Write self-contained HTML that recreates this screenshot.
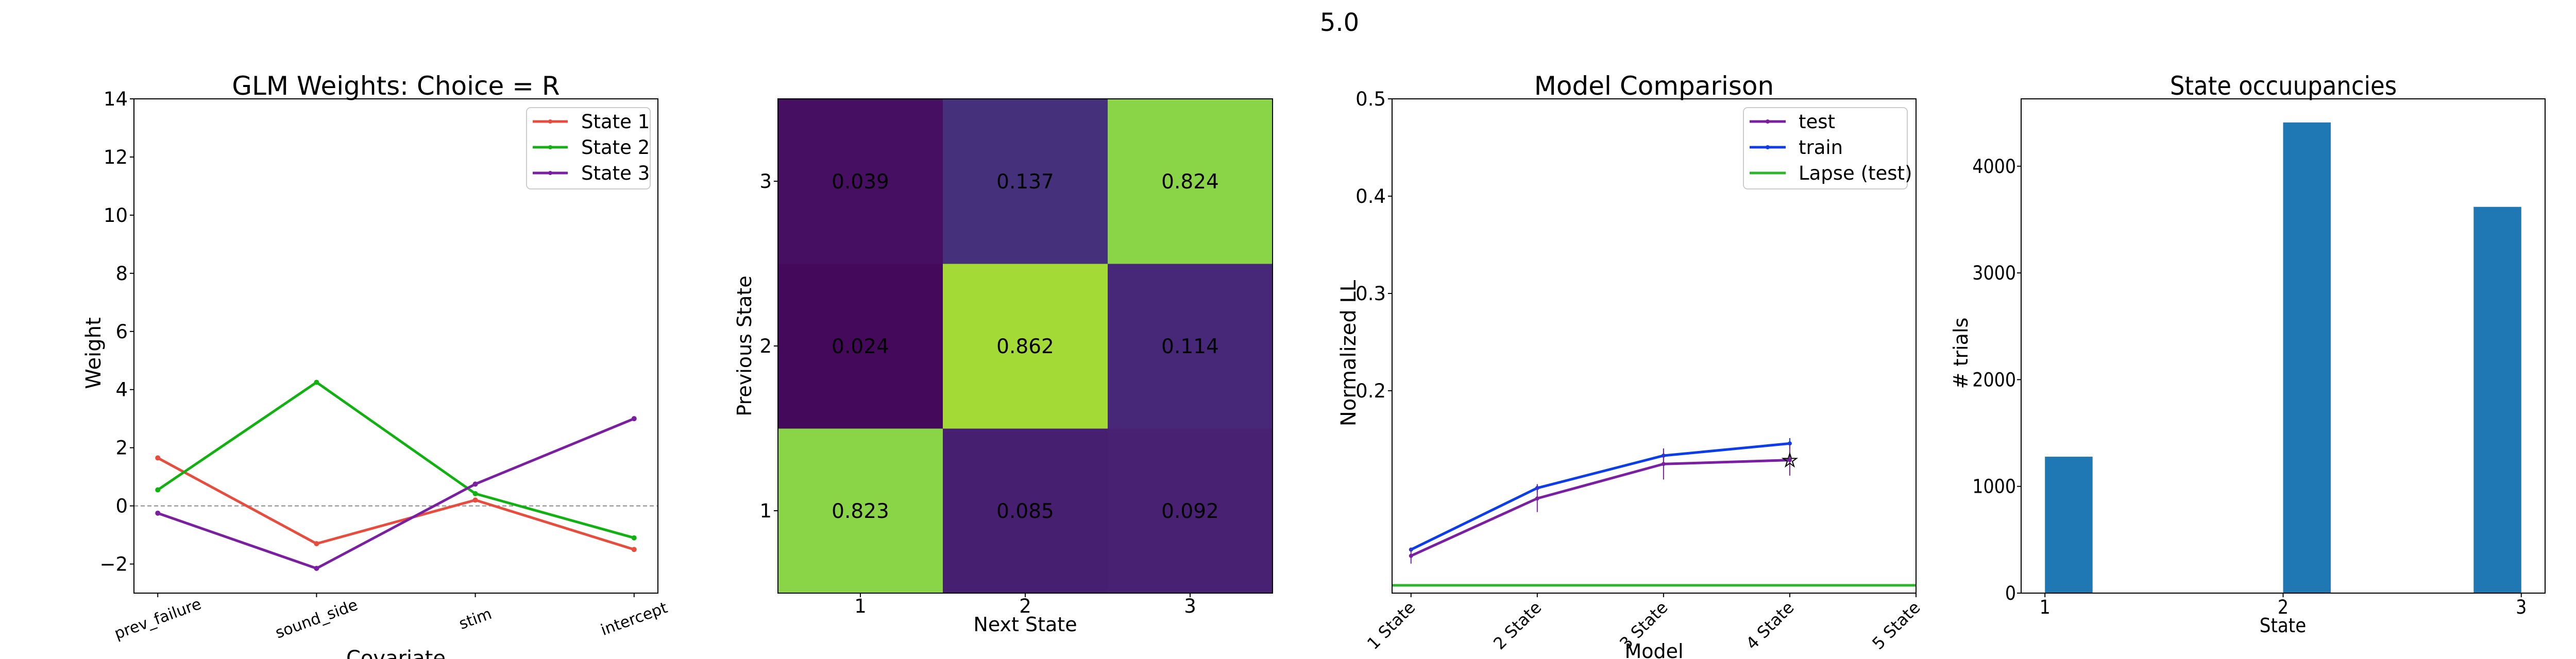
<!DOCTYPE html>
<html><head><meta charset="utf-8"><style>
html,body{margin:0;padding:0;background:#fff;width:5200px;height:1280px;overflow:hidden;}
svg{display:block;font-family:"DejaVu Sans","Liberation Sans",sans-serif;position:absolute;left:0;top:0;}
</style></head><body>
<svg id="fig" xmlns="http://www.w3.org/2000/svg" width="5200" height="1280" viewBox="0 0 5200 1280" overflow="hidden">
<rect width="5200" height="1280" fill="#fff"/>
<text x="2600" y="60" font-size="48" text-anchor="middle">5.0</text>
</svg>
<script>
// ---- data ----
const glmCovariates = ["prev_failure","sound_side","stim","intercept"];
const glmState1 = [1.65,-1.3,0.2,-1.5];
const glmState2 = [0.55,4.25,0.42,-1.1];
const glmState3 = [-0.25,-2.15,0.75,3.0];
const glmYTicks = [-2,0,2,4,6,8,10,12,14];
const transLabels = ["1","2","3"];
const transMatrix = [[0.823,0.085,0.092],[0.024,0.862,0.114],[0.039,0.137,0.824]];
const modelLabels = ["1 State","2 State","3 State","4 State","5 State"];
const modelTest = [0.0303,0.0893,0.1247,0.1287];
const modelTestErr = [0.008,0.014,0.016,0.016];
const modelTrain = [0.0367,0.1,0.1333,0.1458];
const modelTrainErr = [0.002,0.004,0.007,0.0055];
const lapseTest = [0.0];
const modelYTicks = [0.2,0.3,0.4,0.5];
const occStates = [1,2,3];
const occCounts = [1278,4410,3619];
const occYTicks = [0,1000,2000,3000,4000];

const NS="http://www.w3.org/2000/svg";
const svg=document.getElementById('fig');
function mk(tag,attrs,parent,txt){const e=document.createElementNS(NS,tag);for(const k in attrs)e.setAttribute(k,attrs[k]);if(txt!==undefined)e.textContent=txt;(parent||svg).appendChild(e);return e;}
function lin(d0,d1,r0,r1){return v=>r0+(v-d0)/(d1-d0)*(r1-r0);}
function frame(x0,y0,x1,y1,name){const r=mk('rect',{x:x0,y:y0,width:x1-x0,height:y1-y0,fill:'none',stroke:'#000','stroke-width':2});}
function txt(x,y,s,size,anchor,name,extra){const t=mk('text',Object.assign({x:x,y:y,'font-size':size,'text-anchor':anchor||'middle'},extra||{}),svg,s);return t;}
function poly(pts,color,w,name){const p=mk('polyline',{points:pts.map(p=>p.join(',')).join(' '),fill:'none',stroke:color,'stroke-width':w,'stroke-linejoin':'round'});return p;}
function line(x1,y1,x2,y2,color,w,name,extra){const l=mk('line',Object.assign({x1:x1,y1:y1,x2:x2,y2:y2,stroke:color,'stroke-width':w},extra||{}));return l;}
function dot(x,y,r,color,name){const c=mk('circle',{cx:x,cy:y,r:r,fill:color});}
function legendBox(x,y,w,h,name){const r=mk('rect',{x:x,y:y,width:w,height:h,rx:8,fill:'#fff','fill-opacity':0.8,stroke:'#ccc','stroke-width':2});}

// ---- Panel 1: GLM weights ----
(function(){
const L=260,R=1277,T=192,B=1152;
const X=lin(-0.15,3.15,L,R), Y=lin(-3,14,B,T);
line(L,Y(0),R,Y(0),'#888',2,'zero-line',{'stroke-dasharray':'8,5'});
const cols=['#e84c3d','#11b111','#7b1fa2'];
[glmState1,glmState2,glmState3].forEach((s,i)=>{
  poly(s.map((v,j)=>[X(j),Y(v)]),cols[i],5,'glm-line-state-'+(i+1));
  s.forEach((v,j)=>dot(X(j),Y(v),5,cols[i],'glm-point-state-'+(i+1)));
});
frame(L,T,R,B,'glm-axes');
glmYTicks.forEach(v=>{line(L-8,Y(v),L,Y(v),'#000',2,'glm-y-tick');txt(L-12,Y(v)+13,v<0?'\u2212'+Math.abs(v):String(v),37,'end','glm-y-tick-label');});
glmCovariates.forEach((c,j)=>{line(X(j),B,X(j),B+8,'#000',2,'glm-x-tick');
  txt(X(j),B+60,c,30,'middle','glm-x-tick-label',{transform:`rotate(-20 ${X(j)} ${B+50})`});});
txt((L+R)/2,184,'GLM Weights: Choice = R',50,'middle','glm-title');
txt(181,672,'Weight',40,'middle','glm-y-axis-title',{transform:'rotate(-90 195 672)'});
txt((L+R)/2,1292,'Covariate',40,'middle','glm-x-axis-title');
legendBox(1022,209,240,158,'glm-legend');
['State 1','State 2','State 3'].forEach((s,i)=>{const y=236+i*50;
  line(1034,y,1102,y,cols[i],5,'legend-line-state-'+(i+1));dot(1068,y,4,cols[i],'legend-marker-state-'+(i+1));
  txt(1128,y+13,s,37,'start','legend-entry-state-'+(i+1));});
})();

// ---- Panel 2: transition matrix ----
(function(){
const L=1510,R=2470,T=192,B=1152;
const X=lin(-0.5,2.5,L,R), Y=lin(-0.5,2.5,B,T);
const vir=[[0,68,1,84],[0.1,72,36,117],[0.2,65,68,135],[0.3,53,95,141],[0.4,42,120,142],[0.5,33,145,140],[0.6,34,168,132],[0.7,68,191,112],[0.8,122,209,81],[0.9,189,223,38],[1,253,231,37]];
function viridis(t){t=Math.max(0,Math.min(1,t));for(let i=0;i<vir.length-1;i++){const a=vir[i],b=vir[i+1];if(t<=b[0]){const f=(t-a[0])/(b[0]-a[0]);return `rgb(${[1,2,3].map(k=>Math.round(a[k]+f*(b[k]-a[k]))).join(',')})`;}}return 'rgb(253,231,37)';}
transMatrix.forEach((row,i)=>row.forEach((v,j)=>{
  const x0=X(j-0.5),x1=X(j+0.5),y0=Y(i+0.5),y1=Y(i-0.5);
  const r=mk('rect',{x:x0,y:y0,width:x1-x0+0.5,height:y1-y0+0.5,fill:viridis(v)});
  
  
  txt(X(j),Y(i)+14,v.toFixed(3),39,'middle','heatmap-value-'+(i+1)+'-'+(j+1));
}));
frame(L,T,R,B,'heatmap-axes');
transLabels.forEach((s,k)=>{line(L-8,Y(k),L,Y(k),'#000',2,'heatmap-y-tick');txt(L-12,Y(k)+13,s,37,'end','heatmap-y-tick-label');
  line(X(k),B,X(k),B+8,'#000',2,'heatmap-x-tick');txt(X(k),B+38,s,37,'middle','heatmap-x-tick-label');});
txt((L+R)/2,1226,'Next State',38,'middle','heatmap-x-axis-title');
txt(1458,672,'Previous State',38,'middle','heatmap-y-axis-title',{transform:'rotate(-90 1458 672)'});
})();

// ---- Panel 3: model comparison ----
(function(){
const L=2702,R=3719,T=192,B=1152;
const X=lin(0.85,5,L,R), Y=lin(-0.008,0.5,B,T);
line(L,Y(lapseTest[0]),R,Y(lapseTest[0]),'#2db52d',5,'lapse-test-line');
poly(modelTrain.map((v,i)=>[X(i+1),Y(v)]),'#0b3de8',5,'train-line');
modelTrain.forEach((v,i)=>{line(X(i+1),Y(v-modelTrainErr[i]),X(i+1),Y(v+modelTrainErr[i]),'#0b3de8',2,'train-error-bar');dot(X(i+1),Y(v),4,'#0b3de8','train-point');});
poly(modelTest.map((v,i)=>[X(i+1),Y(v)]),'#7b1fa2',5,'test-line');
modelTest.forEach((v,i)=>{line(X(i+1),Y(v-modelTestErr[i]),X(i+1),Y(v+modelTestErr[i]),'#7b1fa2',2,'test-error-bar');dot(X(i+1),Y(v),4,'#7b1fa2','test-point');});
const bi=modelTest.length-1;
txt(X(bi+1),Y(modelTest[bi])+12,'\u2605',34,'middle','best-model-star',{fill:'none',stroke:'#000','stroke-width':2});
frame(L,T,R,B,'model-axes');
modelYTicks.forEach(v=>{line(L-8,Y(v),L,Y(v),'#000',2,'model-y-tick');txt(L-12,Y(v)+13,v.toFixed(1),37,'end','model-y-tick-label');});
modelLabels.forEach((s,i)=>{const x=X(i+1);line(x,B,x,B+8,'#000',2,'model-x-tick');
  txt(x+10,B+30,s,32,'end','model-x-tick-label',{transform:`rotate(-45 ${x+10} ${B+30})`});});
txt((L+R)/2,184,'Model Comparison',50,'middle','model-title');
txt(2617,672,'Normalized LL',40,'middle','model-y-axis-title',{transform:'rotate(-90 2631 672)'});
txt((L+R)/2,1278,'Model',38,'middle','model-x-axis-title');
legendBox(3384,209,318,158,'model-legend');
const lc=['#7b1fa2','#0b3de8','#2db52d'],ln=['test','train','Lapse (test)'];
ln.forEach((s,i)=>{const y=236+i*50;line(3396,y,3466,y,lc[i],5,'legend-line-'+s.split(' ')[0].toLowerCase());
  if(i<2)dot(3431,y,4,lc[i],'legend-marker-'+s);
  txt(3491,y+13,s,37,'start','legend-entry-'+s.split(' ')[0].toLowerCase());});
})();

// ---- Panel 4: state occupancies ----
(function(){
const L=3923,R=4940,T=192,B=1152;
const X=lin(0.9,3.1,L,R), Y=lin(0,4631,B,T);
occStates.forEach((s,i)=>{const x0=X(s===3?2.8:s),x1=X(s===3?3.0:s+0.2);
  const r=mk('rect',{x:x0,y:Y(occCounts[i]),width:x1-x0,height:B-Y(occCounts[i]),fill:'#1f77b4'});
  
  });
frame(L,T,R,B,'occupancy-axes');
const f='"DejaVu Sans Condensed","DejaVu Sans",sans-serif';
occYTicks.forEach(v=>{line(L-8,Y(v),L,Y(v),'#000',2,'occupancy-y-tick');txt(L-10,Y(v)+13,String(v),37,'end','occupancy-y-tick-label',{'font-family':f});});
occStates.forEach(s=>{line(X(s),B,X(s),B+8,'#000',2,'occupancy-x-tick');txt(X(s),B+40,String(s),37,'middle','occupancy-x-tick-label',{'font-family':f});});
txt(4432,184,'State occuupancies',50,'middle','occupancy-title',{'font-family':f});
txt(4431,1228,'State',38,'middle','occupancy-x-axis-title',{'font-family':f});
txt(3805,672,'# trials',38,'middle','occupancy-y-axis-title',{transform:'rotate(-90 3819 672)'});
})();
</script>
</body></html>
